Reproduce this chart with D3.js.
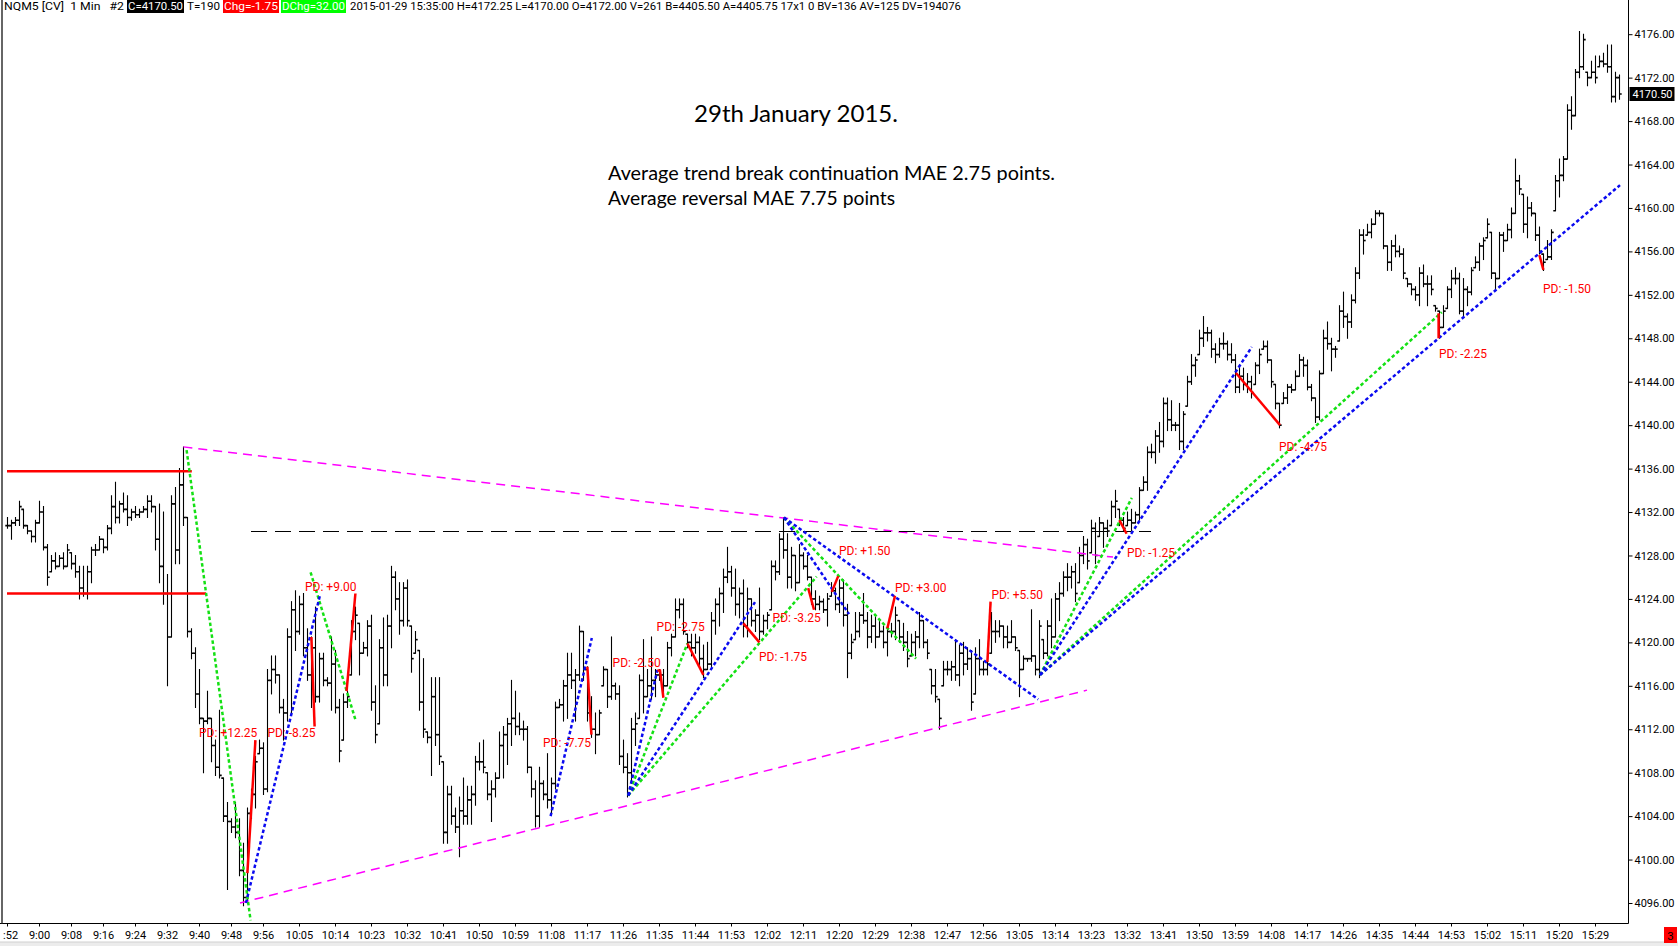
<!DOCTYPE html>
<html>
<head>
<meta charset="utf-8">
<script src="https://cdn.jsdelivr.net/npm/d3@7"></script>
<style>
  html, body { margin: 0; padding: 0; background: #fff; }
  svg { display: block; }
  .axis text { font-family: Roboto, sans-serif; font-size: 11px; fill: #000; }
  .axis line { stroke: #000; }
  .pd { font-family: Roboto, sans-serif; font-size: 12px; fill: #ff0000; }
  .hdr { font-family: Roboto, sans-serif; font-size: 11.5px; }
  .note { font-family: Lato, sans-serif; fill: #000; }
</style>
</head>
<body>
<div id="chart"></div>
<script>
// NQM5 1 min bars, 8:52 .. 15:35 (one entry per minute)
var highs = [
  4131.5, 4131.25, 4131.5, 4133, 4132.25, 4130.75, 4130.25, 4131.25, 4133, 4132.5,
  4129, 4128, 4128.25, 4128, 4128.25, 4129, 4128.25, 4128, 4127, 4127,
  4127, 4128.75, 4129, 4129.75, 4129.5, 4130.75, 4133.5, 4134.75, 4133, 4133.75,
  4133.5, 4132.25, 4132.5, 4132.25, 4132.5, 4133.5, 4133.5, 4132.5, 4132.75, 4132,
  4126.25, 4133.5, 4134.25, 4136, 4138, 4131.5, 4121.25, 4119.5, 4117.5, 4113,
  4115.5, 4113, 4111, 4113.75, 4107.5, 4105.25, 4103.75, 4105.25, 4103.75, 4101.5,
  4104.75, 4106.5, 4109.5, 4111, 4110.75, 4117.5, 4118.75, 4118.75, 4117, 4114.75,
  4121.25, 4123.75, 4124.75, 4124.25, 4124.5, 4121.25, 4120.5, 4123.25, 4119, 4119,
  4116.75, 4120.5, 4119.25, 4114.75, 4115.25, 4115.5, 4122, 4123.25, 4121.75, 4120,
  4122, 4122.5, 4116, 4120.25, 4122.25, 4122.5, 4127, 4126.5, 4125.5, 4125.5,
  4125.75, 4121.5, 4121, 4119.25, 4118.5, 4111.75, 4116.75, 4116.75, 4116.75, 4109,
  4106.75, 4106.75, 4104.75, 4105.75, 4107.5, 4106.75, 4106.75, 4109.5, 4110.75, 4111,
  4108, 4107.25, 4108, 4111.75, 4112.25, 4113, 4116.5, 4115.5, 4113.5, 4112.75,
  4112.25, 4108.5, 4107.25, 4108.5, 4107.25, 4109.75, 4107.5, 4114.5, 4114.75, 4116.5,
  4119, 4119, 4117.5, 4121.5, 4121, 4117.75, 4115, 4113.5, 4113.75, 4117.75,
  4117.5, 4120.5, 4116.25, 4116, 4111, 4109.75, 4113, 4113.5, 4117, 4120.25,
  4117.5, 4120.5, 4117.5, 4117.5, 4117.5, 4120, 4120.75, 4124, 4124, 4124,
  4120.75, 4120.75, 4120.75, 4120.5, 4119.75, 4120, 4122.75, 4124, 4125, 4126.75,
  4128.75, 4127, 4126.75, 4125, 4125.75, 4125, 4124, 4123, 4125, 4122.5,
  4122.75, 4127.5, 4127.5, 4130, 4131.5, 4130, 4128.75, 4128, 4129, 4128.25,
  4128, 4126, 4124.75, 4124.25, 4124, 4124.5, 4125.5, 4125, 4125.75, 4125.75,
  4123.5, 4120.75, 4122.75, 4122.75, 4124.5, 4122.75, 4122.5, 4122.5, 4122, 4121.5,
  4121.5, 4121.75, 4123.25, 4122, 4121.75, 4121, 4120.75, 4121, 4122.75, 4122,
  4120.25, 4117.5, 4117.5, 4114.75, 4118.25, 4118.25, 4118.25, 4120.25, 4119.75, 4120,
  4119.5, 4119.25, 4119.5, 4120.25, 4118.25, 4118.5, 4122.75, 4122, 4122, 4121.5,
  4121.5, 4122, 4120.5, 4119.25, 4118.75, 4118.5, 4123, 4118.75, 4122, 4120.25,
  4122, 4124, 4124.5, 4125.5, 4126.5, 4127.25, 4127, 4127.25, 4128.75, 4129.75,
  4129.5, 4131.25, 4131, 4131.5, 4131, 4131.25, 4133, 4134, 4132.25, 4131.5,
  4132, 4132.25, 4132, 4134.25, 4135.25, 4138, 4138.25, 4139.5, 4140.25, 4142.5,
  4142.5, 4142.25, 4140.25, 4142, 4141.25, 4144.5, 4146.5, 4146.25, 4148.75, 4150,
  4149, 4148.75, 4147.5, 4148, 4148.5, 4147.75, 4147.5, 4146.5, 4145.5, 4145.25,
  4144.75, 4144.5, 4145.75, 4147, 4147.75, 4147.75, 4146, 4143.75, 4142, 4143,
  4143.75, 4143.75, 4145, 4146.5, 4146.25, 4146, 4143.75, 4142.5, 4145, 4148.75,
  4149.5, 4148, 4147.25, 4151, 4152.25, 4150.25, 4152, 4154.5, 4158, 4158,
  4158.5, 4159, 4159.75, 4159.75, 4159.5, 4156.5, 4157, 4157.5, 4156.5, 4156.25,
  4153.5, 4153, 4152.75, 4154.5, 4154.75, 4153.75, 4153.75, 4151, 4150.5, 4151,
  4152.75, 4154.25, 4154.5, 4154, 4153.5, 4152.75, 4154.5, 4155.5, 4156.75, 4157.25,
  4159, 4157.75, 4154, 4157.75, 4157.75, 4158.5, 4160, 4164.5, 4163, 4161.25,
  4161, 4160.5, 4159.5, 4158.25, 4155.75, 4157, 4158, 4163, 4164.5, 4164.75,
  4169.5, 4170.25, 4172.75, 4176.25, 4176, 4172.5, 4173.5, 4174, 4174, 4174.25,
  4175, 4175, 4172.5, 4172.25
];

var lows = [
  4130.5, 4129.5, 4130.75, 4130.75, 4130.5, 4130, 4129.25, 4129.25, 4131, 4128.5,
  4125.25, 4126.5, 4126.75, 4127, 4126.75, 4127, 4126.75, 4126, 4124, 4124.25,
  4124, 4125.5, 4128, 4128.5, 4128.25, 4128.5, 4130, 4131, 4131, 4132,
  4130.75, 4131.25, 4131.5, 4131.5, 4132, 4131.5, 4132, 4128.5, 4125.5, 4123.5,
  4116, 4120.5, 4127.25, 4127.25, 4130.75, 4120.5, 4118.5, 4114, 4112.5, 4108,
  4112.5, 4109, 4107.75, 4107.5, 4103.5, 4097.25, 4102.5, 4102, 4098.5, 4095.75,
  4096.25, 4103.75, 4104.75, 4109.75, 4106, 4106.25, 4115.25, 4116.25, 4113.5, 4111,
  4112.75, 4113.5, 4119.25, 4120.75, 4118.75, 4116.5, 4114, 4114.5, 4114.5, 4116,
  4116, 4113.75, 4113.5, 4109, 4111, 4114, 4117, 4120.25, 4117, 4119,
  4118.75, 4113.75, 4110.75, 4112.5, 4116, 4116, 4119.5, 4123, 4120.75, 4121.5,
  4121.5, 4117.25, 4119, 4113.75, 4111.25, 4110.75, 4107.75, 4110.5, 4108.75, 4101.5,
  4101.5, 4103.25, 4102.5, 4100.25, 4103.25, 4103.25, 4103.25, 4105, 4108.25, 4108,
  4105.5, 4103.5, 4105.75, 4107.5, 4107.5, 4108.75, 4110.5, 4111.5, 4111.5, 4111,
  4108, 4105.75, 4103, 4103, 4105.5, 4104.75, 4104.25, 4106.5, 4114, 4112.75,
  4113, 4115.75, 4112.75, 4116.5, 4116.5, 4112.75, 4111.25, 4109.75, 4111.5, 4116,
  4114, 4114.75, 4114.75, 4108.75, 4108, 4105.75, 4107, 4110.5, 4113, 4113.5,
  4115, 4114.75, 4115, 4116.5, 4115.25, 4116, 4118.75, 4120.5, 4122.25, 4120.75,
  4119.5, 4118.75, 4119, 4117.75, 4116.75, 4117.5, 4117.75, 4120.75, 4121.5, 4122.75,
  4125.5, 4124.25, 4122.5, 4122.25, 4120.5, 4120.5, 4121.5, 4121, 4120.25, 4120.75,
  4121.25, 4123, 4125.75, 4126.25, 4127.75, 4125, 4125, 4124.75, 4125.5, 4126.75,
  4125.75, 4123.5, 4123, 4123, 4122.75, 4121.5, 4124.25, 4123, 4122.75, 4121.5,
  4116.75, 4118.5, 4120.25, 4120.5, 4121.75, 4119.5, 4120, 4119.5, 4120.5, 4119.5,
  4118.75, 4120.5, 4120.25, 4120, 4119.25, 4117.75, 4118.75, 4118.75, 4119.5, 4119.5,
  4118.5, 4115.25, 4114.5, 4112, 4116, 4117, 4116.5, 4116.5, 4116, 4117,
  4117.5, 4113.75, 4115.25, 4117, 4117, 4117, 4119, 4120, 4120.5, 4119.5,
  4119.5, 4120, 4119.25, 4115, 4117.5, 4118.25, 4118.25, 4117, 4116.75, 4118.5,
  4118.75, 4119.5, 4120.5, 4122, 4124.25, 4124.75, 4125, 4123.75, 4125.5, 4127.25,
  4126.75, 4128.25, 4127.25, 4129.75, 4128.75, 4129.75, 4130.75, 4131.5, 4130.75, 4130.25,
  4130.75, 4130.25, 4131, 4131.25, 4134, 4134, 4137, 4136.5, 4137.5, 4138,
  4139.5, 4139.5, 4139.5, 4137.75, 4137.75, 4141.75, 4143.75, 4144.5, 4146.5, 4147.25,
  4147.75, 4146.25, 4145.75, 4146.25, 4147, 4146, 4145.75, 4143, 4143, 4143.25,
  4143, 4142.5, 4143.75, 4144.75, 4147, 4145.75, 4143.5, 4141.5, 4139.75, 4142,
  4142, 4143, 4143.25, 4144.5, 4144.5, 4143.25, 4142.25, 4140.25, 4140.5, 4144.75,
  4147, 4145, 4146.25, 4147.75, 4149, 4148, 4149, 4151.25, 4153.5, 4155.75,
  4157.5, 4157.25, 4158.5, 4159.25, 4156.25, 4154.25, 4154.25, 4155.5, 4155.5, 4153.5,
  4152.75, 4152, 4151.5, 4151, 4152.75, 4151, 4152, 4150.5, 4148, 4149,
  4150.75, 4151.75, 4153, 4150.25, 4150, 4151, 4152, 4154.5, 4154.25, 4155.25,
  4157.25, 4153.5, 4152.5, 4153.5, 4156, 4157, 4157.25, 4159.5, 4161.25, 4157.75,
  4157.25, 4159.25, 4157, 4155.75, 4154.25, 4155.25, 4155.25, 4159.75, 4161, 4162.5,
  4164.5, 4167.25, 4168.5, 4172, 4172.75, 4171.25, 4172, 4171.5, 4173, 4173,
  4172.5, 4169.75, 4169.75, 4170
];

var closes = [
  4130.75, 4131, 4131.25, 4132.5, 4130.75, 4130.25, 4129.75, 4131, 4132, 4128.75,
  4126, 4127.5, 4127, 4127.75, 4127, 4128.5, 4127.25, 4126.5, 4125, 4124.5,
  4126.5, 4128.5, 4128.5, 4129.5, 4128.75, 4130.5, 4132.5, 4131.5, 4132.75, 4132.25,
  4131.5, 4132, 4131.75, 4132, 4132.25, 4133, 4132.5, 4129.5, 4127, 4124.5,
  4120.5, 4132.75, 4128.5, 4134.5, 4131.5, 4121, 4119, 4115.25, 4113, 4112.75,
  4113, 4110.5, 4108.5, 4107.75, 4104, 4103.5, 4103, 4102.5, 4099, 4096.5,
  4104.25, 4106, 4109, 4110.25, 4106.5, 4116.5, 4117.5, 4117, 4114, 4113.5,
  4120.5, 4123, 4121, 4123.5, 4119.5, 4117, 4119.5, 4115, 4118.5, 4116.5,
  4116.25, 4118, 4114, 4110, 4114.5, 4115, 4121, 4122.5, 4119, 4119.5,
  4121.5, 4114.5, 4111.5, 4119.5, 4117, 4121.5, 4126, 4124, 4122, 4125,
  4122, 4118.5, 4120.25, 4114.5, 4112, 4111.25, 4115, 4111.5, 4109.5, 4102.5,
  4106, 4104, 4103, 4104.5, 4104, 4105.5, 4106, 4109, 4109, 4108.5,
  4106, 4106.5, 4107.5, 4110.5, 4111.5, 4112.5, 4113, 4112.25, 4112, 4112,
  4108.5, 4106.5, 4104, 4107, 4106, 4105.5, 4107, 4114, 4114.25, 4116,
  4117, 4116.5, 4117, 4121, 4117.5, 4113.5, 4112, 4111.5, 4113.5, 4117.5,
  4115, 4116, 4115.25, 4109.5, 4108.5, 4108, 4112, 4112.5, 4116.5, 4115,
  4116, 4116.5, 4117, 4117, 4116, 4119.5, 4120.5, 4123, 4123.5, 4121,
  4120, 4119.5, 4120, 4118.5, 4117.5, 4118, 4122, 4123.5, 4124.5, 4126,
  4126.5, 4125, 4123.5, 4124.5, 4121.5, 4124, 4122, 4122.5, 4121, 4122,
  4122.5, 4127, 4126.5, 4129.5, 4128.5, 4126, 4128, 4125.5, 4128, 4127,
  4126, 4124, 4123.5, 4123.75, 4123, 4124, 4124.75, 4123.5, 4125, 4122.5,
  4119, 4120, 4121, 4122.5, 4122, 4120.5, 4121.5, 4120.5, 4121, 4120,
  4121, 4121, 4122.5, 4120.5, 4120, 4118.5, 4120, 4120.5, 4122, 4120,
  4119, 4116, 4115, 4113, 4117.5, 4117.5, 4117.75, 4117, 4119, 4118,
  4118.5, 4114.5, 4118.5, 4117.5, 4117.5, 4118, 4121, 4121, 4121.5, 4120.5,
  4120, 4120.5, 4119.5, 4117.5, 4118.5, 4118.5, 4118.75, 4117.5, 4121.5, 4119,
  4121.5, 4120.5, 4124, 4124.5, 4126, 4126, 4126.5, 4124.5, 4128, 4129,
  4127.5, 4130.5, 4128, 4131, 4130.5, 4130.25, 4132.5, 4133, 4131.25, 4130.5,
  4131.25, 4131, 4131.75, 4134, 4134.75, 4137.5, 4137.5, 4139, 4138.5, 4142,
  4140.5, 4140, 4140, 4138.5, 4141, 4144, 4145.5, 4146, 4148, 4148.5,
  4148.5, 4147, 4146.5, 4147.5, 4147.5, 4146.5, 4146, 4143.5, 4144.5, 4143.75,
  4144, 4143, 4145.5, 4146.5, 4147.25, 4146, 4144, 4142, 4140, 4142.5,
  4143.5, 4143.25, 4144.5, 4146, 4145.5, 4143.5, 4142.5, 4140.75, 4144.75, 4148,
  4147.5, 4147, 4147, 4150.5, 4150, 4149.5, 4151.5, 4154, 4157.5, 4157,
  4157.75, 4158.5, 4159.5, 4159.5, 4156.5, 4155, 4156.5, 4156, 4155.75, 4154,
  4153, 4152.5, 4152, 4154, 4153, 4153, 4152.5, 4150.75, 4149, 4150.5,
  4152.5, 4153.5, 4153.5, 4150.5, 4152.5, 4152.25, 4154.25, 4155, 4156.5, 4157,
  4158.5, 4154, 4153.5, 4157.5, 4157, 4158, 4159.5, 4162.5, 4161.75, 4158.5,
  4160, 4159.5, 4157.5, 4156, 4155, 4155.5, 4157.75, 4162.5, 4163, 4164.5,
  4169, 4168.5, 4172.5, 4173, 4175.5, 4172, 4172.5, 4172, 4173.5, 4173.25,
  4173, 4170.25, 4172, 4170.5
];

var timeLabels = [
  '8:52', '9:00', '9:08', '9:16', '9:24', '9:32', '9:40', '9:48', '9:56',
  '10:05', '10:14', '10:23', '10:32', '10:41', '10:50', '10:59', '11:08', '11:17',
  '11:26', '11:35', '11:44', '11:53', '12:02', '12:11', '12:20', '12:29', '12:38',
  '12:47', '12:56', '13:05', '13:14', '13:23', '13:32', '13:41', '13:50', '13:59',
  '14:08', '14:17', '14:26', '14:35', '14:44', '14:53', '15:02', '15:11', '15:20',
  '15:29'
];
var firstBarTime = '8:52';
var priceTicks = d3.range(4096, 4177, 4);
var lastPrice = 4170.5;

// drawn studies, as [bar, price, bar, price]
var levelLines = [ [0, 4135.75, 46.2, 4135.75], [0, 4124.5, 49.75, 4124.5] ];
var channelLines = [ [44.1, 4138, 276.5, 4127.85], [58.25, 4096, 270, 4115.6] ];
var refLine = [61, 4130.25, 286, 4130.25];
var greenLines = [
  [44.9, 4137.7, 60.9, 4094.4],
  [75.9, 4126.45, 87.25, 4112.7],
  [155.3, 4105.9, 170.1, 4119.9],
  [155.3, 4105.9, 202.4, 4126.05],
  [194.25, 4131.5, 227.25, 4118.5],
  [258.25, 4117, 281.2, 4133.3],
  [258.25, 4117, 358.7, 4150.4]
];
var blueLines = [
  [59.75, 4096, 78.25, 4124.35],
  [135.9, 4104, 146.2, 4120.4],
  [155.3, 4105.9, 162.6, 4117.45],
  [155.3, 4105.9, 187, 4123.7],
  [194.25, 4131.5, 257.8, 4114.75],
  [194.25, 4131.5, 210.5, 4122.6],
  [258.25, 4117, 311.2, 4147.2],
  [258.25, 4117, 403.25, 4162.1]
];
// price drift after each break, bar/price pairs
var pdMoves = [
  [[60.1, 4098.75], [62.1, 4111]],
  [[76.1, 4120.5], [76.9, 4112.25]],
  [[84.9, 4115.5], [87.1, 4124.5]],
  [[145.1, 4117.75], [146.1, 4111.5]],
  [[162.6, 4117.4], [163.25, 4117.4], [164.1, 4114.9]],
  [[170.1, 4119.9], [174.1, 4117]],
  [[184.1, 4121.75], [188.1, 4120]],
  [[200.3, 4125], [201.75, 4123]],
  [[206.2, 4124.65], [207.8, 4126.1]],
  [[220.1, 4121.3], [222, 4124.3]],
  [[245.1, 4118.2], [245.9, 4123.75]],
  [[278.1, 4131.25], [279.9, 4130]],
  [[307.25, 4144.8], [318.25, 4140]],
  [[357.9, 4150.3], [357.9, 4148]],
  [[383.1, 4155.65], [384.1, 4154.3]]
];
var pdTexts = [
  'PD: +12.25', 'PD: -8.25', 'PD: +9.00', 'PD: -7.75', 'PD: -2.50',
  'PD: -2.75', 'PD: -1.75', 'PD: -3.25', 'PD: +1.50', 'PD: +3.00',
  'PD: +5.50', 'PD: -1.25', 'PD: -4.75', 'PD: -2.25', 'PD: -1.50'
];
var pdAnchors = [
  [48, 4111.65], [65.1, 4111.65], [74.5, 4125.1], [134, 4110.75], [151.4, 4118.1],
  [162.4, 4121.4], [188, 4118.65], [191.4, 4122.25], [208, 4128.4], [222, 4125],
  [246.1, 4124.35], [280, 4128.3], [318, 4138], [358, 4146.55], [384, 4152.6]
];

var title = '29th January 2015.';
var notes = [
  'Average trend break continuation MAE 2.75 points.',
  'Average reversal MAE 7.75 points'
];


(function()
{
  var width = 1678,
      height = 946,
      axisX = 1628.5,
      axisY = 923.5,
      svg,
      x,
      y,
      plot,
      bars,
      i
  ;

  x = d3.scaleLinear().domain([0, 403]).range([7, 1619]);
  y = d3.scaleLinear().domain([4096, 4176]).range([903, 34.2]);

  svg =
  d3
    .select('#chart')
      .append('svg')
      .attr('width', width)
      .attr('height', height)
  ;

  var defs = svg.append('defs');

  defs
    .append('clipPath')
    .attr('id', 'plotclip')
    .append('rect')
      .attr('x', 2.5)
      .attr('y', 0)
      .attr('width', axisX - 2.5)
      .attr('height', axisY);

  plot = svg.append('g').attr('clip-path', 'url(#plotclip)');

  // bars
  bars = [];
  for( i = 0; i < highs.length; i++ )
  {
    bars.push({
      i: i,
      h: highs[i],
      l: lows[i],
      o: i ? Math.min( highs[i], Math.max( lows[i], closes[i-1] ) ) : closes[i],
      c: closes[i]
    });
  }

  var g =
  plot
    .append('g')
    .attr('stroke', '#000')
    .selectAll('g.bar')
    .data( bars )
    .enter()
      .append('g')
      .attr('class', 'bar')
      .attr('transform', function(d)
      {
        return 'translate(' + ( Math.round( x(d.i) ) + 0.5 ) + ',0)';
      })
  ;
  g.append('line')
    .attr('y1', function(d) { return y(d.h) - 0.5; })
    .attr('y2', function(d) { return y(d.l) + 0.5; })
    .attr('stroke-width', 1.1);
  g.append('line')
    .attr('x1', -2.2).attr('x2', 0)
    .attr('y1', function(d) { return y(d.o); })
    .attr('y2', function(d) { return y(d.o); })
    .attr('stroke-width', 1.6);
  g.append('line')
    .attr('x1', 0).attr('x2', 2.2)
    .attr('y1', function(d) { return y(d.c); })
    .attr('y2', function(d) { return y(d.c); })
    .attr('stroke-width', 1.6);

  // studies
  function segs( data, color, w, dash )
  {
    return plot
      .append('g')
      .selectAll('line')
      .data( data )
      .enter()
        .append('line')
        .attr('x1', function(d) { return x(d[0]); })
        .attr('y1', function(d) { return y(d[1]); })
        .attr('x2', function(d) { return x(d[2]); })
        .attr('y2', function(d) { return y(d[3]); })
        .attr('stroke', color)
        .attr('stroke-width', w)
        .attr('stroke-dasharray', dash)
    ;
  }

  segs( levelLines, '#ff0000', 2.5, null );
  segs( channelLines, '#ff00ff', 1.5, '9 6' );

  // reference level: snap to a pixel row so the dashes stay crisp
  plot.append('line')
    .attr('x1', x( refLine[0] ))
    .attr('x2', x( refLine[2] ))
    .attr('y1', Math.round( y( refLine[1] ) ) + 0.5)
    .attr('y2', Math.round( y( refLine[3] ) ) + 0.5)
    .attr('stroke', '#000')
    .attr('stroke-width', 1)
    .attr('stroke-dasharray', '16 8')
    .attr('shape-rendering', 'crispEdges');

  segs( greenLines, '#14e014', 2.5, '3.5 2.5' );
  segs( blueLines, '#0a0af0', 2.5, '3.5 2.5' );

  var moveLine = d3.line()
    .x(function(d) { return x(d[0]); })
    .y(function(d) { return y(d[1]); });

  plot
    .append('g')
    .selectAll('path')
    .data( pdMoves )
    .enter()
      .append('path')
      .attr('d', moveLine)
      .attr('fill', 'none')
      .attr('stroke', '#ff0000')
      .attr('stroke-width', 2.5)
  ;

  plot
    .append('g')
    .selectAll('text')
    .data( pdTexts )
    .enter()
      .append('text')
      .attr('class', 'pd')
      .attr('x', function(d, k) { return x( pdAnchors[k][0] ); })
      .attr('y', function(d, k) { return y( pdAnchors[k][1] ); })
      .attr('dy', '0.36em')
      .text(function(d) { return d; })
  ;

  // title and notes
  svg.append('text')
    .attr('class', 'note')
    .attr('x', 694)
    .attr('y', 122)
    .attr('font-size', 24)
    .attr('textLength', 204)
    .attr('lengthAdjust', 'spacingAndGlyphs')
    .text( title );

  svg.append('g')
    .selectAll('text')
    .data( notes )
    .enter()
      .append('text')
      .attr('class', 'note')
      .attr('x', 608)
      .attr('y', function(d, k) { return 180 + k * 24.5; })
      .attr('font-size', 19.5)
      .attr('textLength', function(d, k) { return k ? 287 : 447; })
      .attr('lengthAdjust', 'spacingAndGlyphs')
      .text(function(d) { return d; })
  ;

  // price axis
  var yAxis = svg.append('g')
    .attr('class', 'axis')
    .attr('transform', 'translate(' + axisX + ',0)')
    .call(
      d3.axisRight( y )
        .tickValues( priceTicks )
        .tickSize( 4 )
        .tickPadding( 2 )
        .tickFormat( d3.format('.2f') )
    );
  yAxis.select('.domain').remove();

  svg.append('line')
    .attr('x1', axisX).attr('x2', axisX)
    .attr('y1', 0).attr('y2', axisY)
    .attr('stroke', '#000');

  var ly = Math.round( y( lastPrice ) );
  svg.append('rect')
    .attr('x', axisX + 1).attr('y', ly - 7)
    .attr('width', 45).attr('height', 14)
    .attr('fill', '#000');
  svg.append('text')
    .attr('x', axisX + 4).attr('y', ly)
    .attr('dy', '0.36em')
    .attr('fill', '#fff')
    .style('font-family', 'Roboto, sans-serif')
    .style('font-size', '11px')
    .text( d3.format('.2f')( lastPrice ) );

  // time axis
  function minutes( t )
  {
    var p = t.split(':');
    return +p[0] * 60 + +p[1];
  }

  // clip rect lives in the axis group's own (translated) coordinates
  defs
    .append('clipPath')
    .attr('id', 'timeclip')
    .append('rect')
      .attr('x', 3).attr('y', -1)
      .attr('width', axisX - 3).attr('height', 22);

  var start = minutes( firstBarTime );
  var xAxis = svg.append('g')
    .attr('class', 'axis')
    .attr('clip-path', 'url(#timeclip)')
    .attr('transform', 'translate(0,' + axisY + ')')
    .call(
      d3.axisBottom( x )
        .tickValues( timeLabels.map(function(t) { return minutes(t) - start; }) )
        .tickSize( 3 )
        .tickPadding( 5 )
        .tickFormat(function(d, k) { return timeLabels[k]; })
    );
  xAxis.select('.domain').remove();

  svg.append('line')
    .attr('x1', 0).attr('x2', axisX)
    .attr('y1', axisY).attr('y2', axisY)
    .attr('stroke', '#000');

  svg.append('line')
    .attr('x1', 2).attr('x2', 2)
    .attr('y1', 0).attr('y2', axisY)
    .attr('stroke', '#333')
    .attr('stroke-width', 1.5);

  svg.append('rect')
    .attr('x', 0).attr('y', 942)
    .attr('width', width).attr('height', 4)
    .attr('fill', '#ececec');
  svg.append('line')
    .attr('x1', 0).attr('x2', width)
    .attr('y1', 942).attr('y2', 942)
    .attr('stroke', '#d0d0d0');

  svg.append('rect')
    .attr('x', 1664).attr('y', 927)
    .attr('width', 13).attr('height', 16)
    .attr('fill', '#ff0000');
  svg.append('text')
    .attr('class', 'hdr')
    .attr('x', 1670.5).attr('y', 939.5)
    .attr('text-anchor', 'middle')
    .text('3');

  // header strip
  var hdr = [
    { t: 'NQM5 [CV]  1 Min   #2', x: 4, w: 120, bg: null, fg: '#000' },
    { t: 'C=4170.50', x: 127, w: 57, bg: '#000', fg: '#fff' },
    { t: 'T=190', x: 187, w: 33, bg: null, fg: '#000' },
    { t: 'Chg=-1.75', x: 223, w: 56, bg: '#ff0000', fg: '#fff' },
    { t: 'DChg=32.00', x: 281, w: 65, bg: '#00ff00', fg: '#fff' },
    { t: '2015-01-29 15:35:00 H=4172.25 L=4170.00 O=4172.00 V=261 B=4405.50 A=4405.75 17x1 0 BV=136 AV=125 DV=194076',
      x: 350, w: 611, bg: null, fg: '#000' }
  ];
  hdr.forEach(function(h)
  {
    if( h.bg )
    {
      svg.append('rect')
        .attr('x', h.x).attr('y', 0)
        .attr('width', h.w).attr('height', 13)
        .attr('fill', h.bg);
    }
    svg.append('text')
      .attr('class', 'hdr')
      .attr('x', h.x + ( h.bg ? 1 : 0 ))
      .attr('y', 10)
      .attr('fill', h.fg)
      .attr('textLength', h.w - ( h.bg ? 2 : 0 ))
      .attr('lengthAdjust', 'spacingAndGlyphs')
      .style('white-space', 'pre')
      .text( h.t );
  });
})();
</script>
</body>
</html>
